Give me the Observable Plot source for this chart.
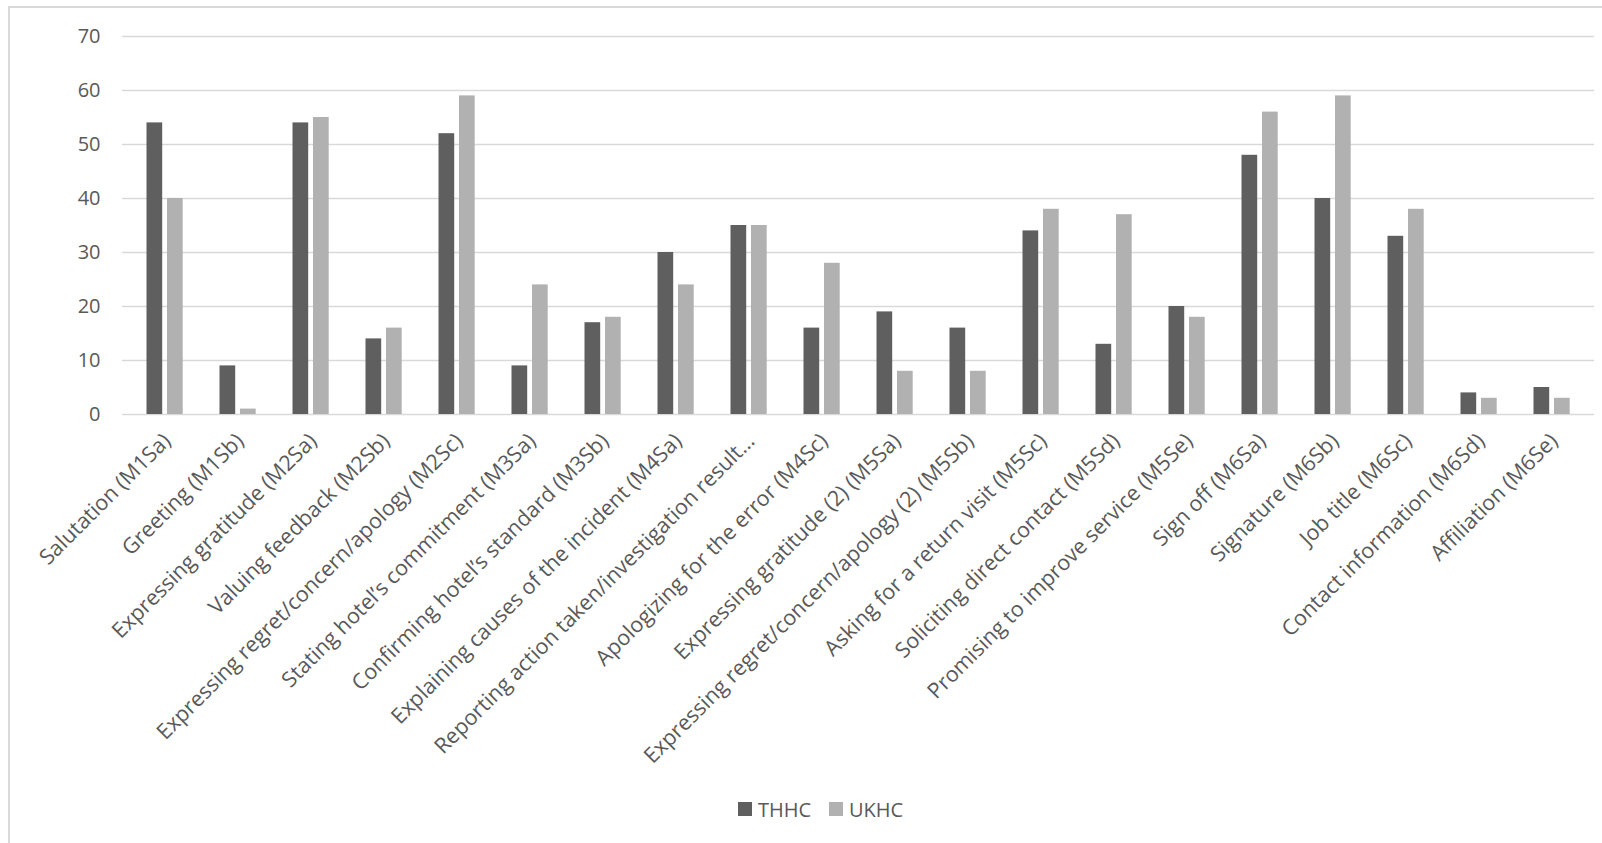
<!DOCTYPE html>
<html>
<head>
<meta charset="utf-8">
<script src="https://cdn.jsdelivr.net/npm/d3@7"></script>
<script src="https://cdn.jsdelivr.net/npm/@observablehq/plot@0.6"></script>
<style>
  html, body { margin: 0; padding: 0; background: #fff; }
  body { width: 1602px; height: 843px; position: relative; overflow: hidden; font-family: "Open Sans", sans-serif; }
  #frame { position: absolute; left: 8px; top: 6px; width: 1700px; height: 900px; border: 2px solid #d9d9d9; box-sizing: border-box; }
  #chart { position: absolute; left: 0; top: 0; }
  #legend { position: absolute; left: 0; top: 796px; width: 1602px; height: 26px; font-size: 20px; color: #595959; }
  .item { position: absolute; top: 0; height: 26px; display: flex; align-items: center; white-space: nowrap; }
  .sw { width: 14px; height: 14px; margin-right: 6px; }
</style>
</head>
<body>
<div id="frame"></div>
<div id="chart"></div>
<div id="legend"></div>
<script>
const categories = [
  "Salutation (M1Sa)",
  "Greeting (M1Sb)",
  "Expressing gratitude (M2Sa)",
  "Valuing feedback (M2Sb)",
  "Expressing regret/concern/apology (M2Sc)",
  "Stating hotel’s commitment (M3Sa)",
  "Confirming hotel’s standard (M3Sb)",
  "Explaining causes of the incident (M4Sa)",
  "Reporting action taken/investigation result…",
  "Apologizing for the error (M4Sc)",
  "Expressing gratitude (2) (M5Sa)",
  "Expressing regret/concern/apology (2) (M5Sb)",
  "Asking for a return visit (M5Sc)",
  "Soliciting direct contact (M5Sd)",
  "Promising to improve service (M5Se)",
  "Sign off (M6Sa)",
  "Signature (M6Sb)",
  "Job title (M6Sc)",
  "Contact information (M6Sd)",
  "Affiliation (M6Se)"
];
const seriesNames = ["THHC", "UKHC"];
const thhc = [54, 9, 54, 14, 52, 9, 17, 30, 35, 16, 19, 16, 34, 13, 20, 48, 40, 33, 4, 5];
const ukhc = [40, 1, 55, 16, 59, 24, 18, 24, 35, 28, 8, 8, 38, 37, 18, 56, 59, 38, 3, 3];
const yTicks = [0, 10, 20, 30, 40, 50, 60, 70];
const colors = {THHC: "#5f5f5f", UKHC: "#b1b1b1"};

const thhcData = categories.map((c, i) => ({category: c, value: thhc[i]}));
const ukhcData = categories.map((c, i) => ({category: c, value: ukhc[i]}));

const plot = Plot.plot({
  width: 1602,
  height: 790,
  marginLeft: 122,
  marginRight: 8,
  marginTop: 36,
  marginBottom: 376,
  style: {fontFamily: "Open Sans, sans-serif", fontSize: "20px", color: "#595959", background: "transparent"},
  x: {type: "band", domain: categories, padding: 0, label: null},
  y: {domain: [0, 70], ticks: yTicks, label: null},
  marks: [
    Plot.gridY(yTicks, {stroke: "#d9d9d9", strokeOpacity: 1, strokeWidth: 1.5}),
    Plot.barY(thhcData, {x: "category", y: "value", fill: colors.THHC, insetLeft: 18.5, insetRight: 38.8}),
    Plot.barY(ukhcData, {x: "category", y: "value", fill: colors.UKHC, insetLeft: 39, insetRight: 18.3}),
    Plot.axisY({ticks: yTicks, tickSize: 0, tickPadding: 22, fontSize: 20, fill: "#595959", label: null}),
    Plot.axisX({tickRotate: -45, tickSize: 0, tickPadding: 23, dx: 2, fontSize: 21.5, fill: "#595959", label: null})
  ]
});
document.getElementById("chart").appendChild(plot);

const legend = document.getElementById("legend");
const legendLeft = {THHC: 738, UKHC: 829};
for (const s of seriesNames) {
  const item = document.createElement("div");
  item.className = "item";
  item.style.left = legendLeft[s] + "px";
  const sw = document.createElement("div");
  sw.className = "sw";
  sw.style.background = colors[s];
  const t = document.createElement("span");
  t.textContent = s;
  item.appendChild(sw);
  item.appendChild(t);
  legend.appendChild(item);
}
</script>
</body>
</html>
